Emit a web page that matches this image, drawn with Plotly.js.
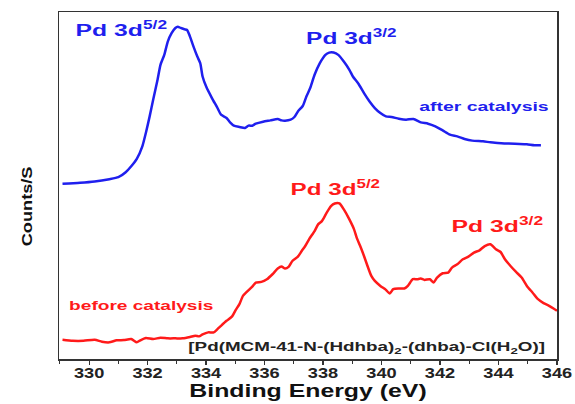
<!DOCTYPE html>
<html>
<head>
<meta charset="utf-8">
<script src="https://cdn.plot.ly/plotly-3.0.1.min.js"></script>
<style>html,body{margin:0;padding:0;background:#fff;}#chart{width:575px;height:404px;}</style>
</head>
<body>
<div id="chart"></div>
<script>
// Binding energy (eV) and intensity (arbitrary counts/s)
const afterEnergy = [329.09,329.69,330.19,330.69,331.00,331.25,331.44,331.63,331.82,331.94,332.07,332.19,332.34,332.44,332.57,332.69,332.82,332.95,333.03,333.13,333.26,333.35,333.45,333.57,333.70,333.80,333.88,334.01,334.20,334.39,334.51,334.70,334.82,334.95,335.14,335.33,335.45,335.58,335.70,335.95,336.20,336.45,336.58,336.70,336.89,337.02,337.14,337.31,337.43,337.56,337.71,337.89,338.08,338.21,338.36,338.52,338.71,338.90,339.02,339.21,339.40,339.59,339.77,339.96,340.15,340.34,340.59,340.84,341.09,341.34,341.59,341.84,342.09,342.34,342.59,342.84,343.10,343.47,343.72,343.97,344.35,344.72,344.97,345.23,345.45];
const afterCounts = [175.7,176.7,178.0,180.3,182.3,187.3,193.3,200.7,213.3,226.7,243.3,260.0,280.0,295.0,305.0,318.3,326.7,332.0,333.3,332.0,330.7,330.0,323.3,313.3,303.3,296.7,283.3,272.7,261.7,251.7,245.0,241.7,237.3,234.0,232.7,231.7,234.0,234.0,236.0,238.0,239.3,240.7,239.3,239.0,240.0,242.7,248.3,254.0,263.3,271.7,285.0,296.7,305.0,307.3,307.3,305.0,298.3,290.0,283.3,276.0,266.7,258.3,251.7,246.7,243.3,242.7,241.0,240.0,240.7,237.3,236.0,233.3,229.3,225.0,223.3,220.7,219.0,218.3,217.3,216.7,216.0,215.7,215.3,214.3,214.3];

const beforeEnergy = [329.09,329.44,329.81,330.19,330.44,330.69,330.94,331.19,331.44,331.63,331.75,331.94,332.19,332.44,332.69,332.95,333.20,333.45,333.63,333.76,333.88,334.07,334.26,334.39,334.51,334.70,334.89,335.01,335.14,335.26,335.39,335.58,335.70,335.89,336.08,336.27,336.45,336.58,336.70,336.83,336.95,337.14,337.27,337.39,337.52,337.71,337.83,337.96,338.11,338.27,338.40,338.56,338.71,338.90,339.06,339.15,339.27,339.40,339.52,339.65,339.77,339.96,340.15,340.28,340.40,340.59,340.78,340.90,341.07,341.22,341.34,341.47,341.65,341.78,341.90,342.09,342.28,342.41,342.59,342.78,342.97,343.16,343.35,343.53,343.72,343.91,344.07,344.22,344.41,344.60,344.79,344.97,345.16,345.35,345.54,345.73,345.88,346.00];
const beforeCounts = [19.3,18.3,18.3,19.3,17.3,16.7,18.7,19.0,20.0,16.7,18.7,21.0,20.0,21.3,20.7,20.7,20.7,22.0,23.3,22.7,24.7,26.7,26.7,30.0,33.3,38.3,42.7,49.0,55.0,63.3,67.3,72.7,76.7,77.3,80.0,85.0,90.7,92.7,90.7,92.7,98.3,102.7,108.3,113.3,120.0,128.3,135.0,138.3,146.0,153.3,156.0,156.0,150.0,140.0,130.0,121.7,113.3,103.3,93.3,83.3,78.3,73.3,69.3,65.7,70.0,70.7,70.7,73.3,80.0,80.0,80.7,79.3,80.0,76.7,81.7,86.0,86.7,91.7,95.0,100.0,102.7,106.7,109.0,113.3,115.0,110.0,107.3,100.0,93.3,87.3,81.7,73.3,66.7,60.0,56.0,53.3,50.7,48.3];

const tickValues = [330,332,334,336,338,340,342,344,346];
const tickLabels = ['330','332','334','336','338','340','342','344','346'];

const labelTexts = ['Pd 3d<sup>5/2</sup>','Pd 3d<sup>3/2</sup>','after catalysis','Pd 3d<sup>5/2</sup>','Pd 3d<sup>3/2</sup>','before catalysis','[Pd(MCM-41-N-(Hdhba)<sub>2</sub>-(dhba)-Cl(H<sub>2</sub>O)]'];
const labelX = [331.10,338.98,343.51,338.43,343.95,331.78,339.50];
const labelY = [331,323,253,171,134,53,11];

// styling
const BLUE = '#1f1fee';
const RED = '#ff1a1a';
const labelColors = [BLUE,BLUE,BLUE,RED,RED,RED,'#222'];
const labelSizes = [17,17,12,17,17,12,12];
const labelWidths = [92,91,130,90,92,145,357];   // drawn width in px (reference text is wide)
const FONT = 'Liberation Sans, Arial, sans-serif';

const traces = [
  {x: afterEnergy, y: afterCounts, mode: 'lines', line: {color: BLUE, width: 2.5, shape: 'spline', smoothing: 0.6}, hoverinfo: 'skip'},
  {x: beforeEnergy, y: beforeCounts, mode: 'lines', line: {color: RED, width: 2.5, shape: 'spline', smoothing: 0.6}, hoverinfo: 'skip'}
];

const annotations = labelTexts.map((t, i) => ({
  x: labelX[i], y: labelY[i], xref: 'x', yref: 'y', text: t, showarrow: false,
  font: {family: FONT, size: labelSizes[i], color: labelColors[i], weight: 'bold'},
  xanchor: 'center', yanchor: 'middle'
}));
annotations.push({
  x: -0.064, y: 0.438, xref: 'paper', yref: 'paper', text: 'Counts/S', textangle: -90,
  showarrow: false, xanchor: 'center', yanchor: 'middle',
  font: {family: FONT, size: 14, color: '#111', weight: 'bold'}
});

const layout = {
  width: 575, height: 404,
  margin: {l: 59, r: 18, t: 12, b: 45},
  paper_bgcolor: '#fff', plot_bgcolor: '#fff',
  showlegend: false,
  font: {family: FONT, color: '#222'},
  xaxis: {
    range: [328.97, 346], showgrid: false, zeroline: false,
    showline: true, mirror: true, linecolor: '#333', linewidth: 1.5,
    tickmode: 'array', tickvals: tickValues, ticktext: tickLabels,
    ticks: 'outside', ticklen: 4, tickwidth: 1.2, tickcolor: '#333',
    ticklabelstandoff: -3,
    minor: {dtick: 1, tick0: 329, ticks: 'outside', ticklen: 3, tickwidth: 1, tickcolor: '#333'},
    tickfont: {family: FONT, size: 14, color: '#222', weight: 'bold'},
    title: {text: 'Binding Energy (eV)', font: {family: FONT, size: 18, color: '#111', weight: 'bold'}, standoff: 0}
  },
  yaxis: {
    range: [0, 348], showgrid: false, zeroline: false,
    showline: true, mirror: true, linecolor: '#333', linewidth: 1.5,
    showticklabels: false, ticks: ''
  },
  annotations: annotations
};

function stretchX(el, s) {
  const g = document.createElementNS('http://www.w3.org/2000/svg', 'g');
  el.parentNode.insertBefore(g, el);
  g.appendChild(el);
  const bb = g.getBBox();
  const cx = bb.x + bb.width / 2;
  g.setAttribute('transform', 'translate(' + cx + ',0) scale(' + s + ',1) translate(' + (-cx) + ',0)');
}

Plotly.newPlot('chart', traces, layout, {displayModeBar: false, staticPlot: true}).then(gd => {
  // make every text carry an explicit font-size attribute
  gd.querySelectorAll('text, tspan').forEach(t => {
    const fs = window.getComputedStyle(t).fontSize;
    if (fs) t.setAttribute('font-size', fs);
  });
  gd.querySelectorAll('.xtick text').forEach(t => stretchX(t, 1.3));
  const xt = gd.querySelector('.xtitle');
  if (xt) stretchX(xt, 1.38);
  const ann = gd.querySelectorAll('.annotation-text');
  ann.forEach((t, i) => {
    if (i < labelWidths.length) {
      const w = t.getBBox().width;
      if (w > 0) stretchX(t, labelWidths[i] / w);
    } else {
      stretchX(t, 1.3);
    }
  });
});
</script>
</body>
</html>
